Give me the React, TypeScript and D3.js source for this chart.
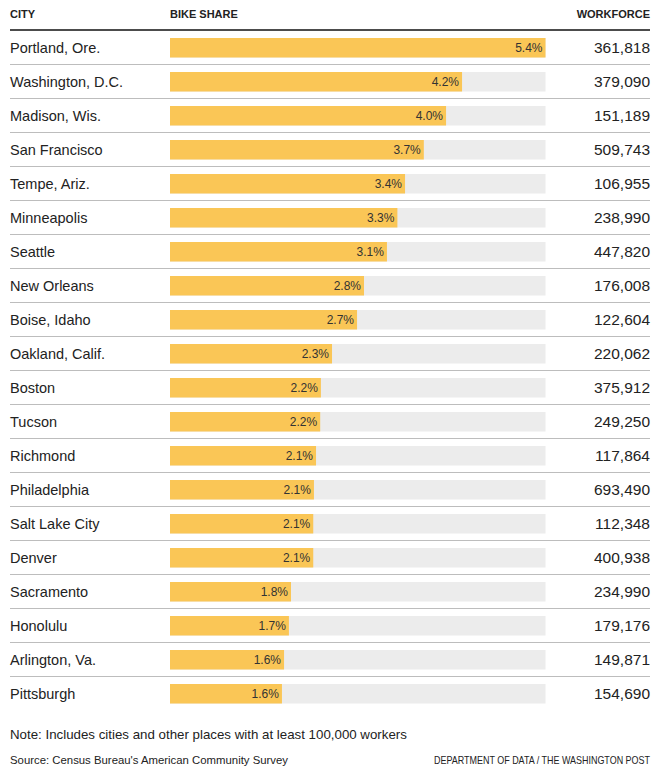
import React, { useEffect, useRef } from 'react';
import * as d3 from 'd3';

const cities = [
  'Portland, Ore.', 'Washington, D.C.', 'Madison, Wis.', 'San Francisco', 'Tempe, Ariz.',
  'Minneapolis', 'Seattle', 'New Orleans', 'Boise, Idaho', 'Oakland, Calif.',
  'Boston', 'Tucson', 'Richmond', 'Philadelphia', 'Salt Lake City',
  'Denver', 'Sacramento', 'Honolulu', 'Arlington, Va.', 'Pittsburgh',
];
// bar lengths (unrounded)
const bikeShare = [5.4, 4.2, 3.97, 3.65, 3.38, 3.27, 3.12, 2.79, 2.69, 2.33, 2.17, 2.16, 2.1, 2.07, 2.06, 2.06, 1.74, 1.71, 1.64, 1.61];
// printed labels
const shareLabels = ['5.4%', '4.2%', '4.0%', '3.7%', '3.4%', '3.3%', '3.1%', '2.8%', '2.7%', '2.3%', '2.2%', '2.2%', '2.1%', '2.1%', '2.1%', '2.1%', '1.8%', '1.7%', '1.6%', '1.6%'];
const workforce = [
  361818, 379090, 151189, 509743, 106955, 238990, 447820, 176008, 122604, 220062,
  375912, 249250, 117864, 693490, 112348, 400938, 234990, 179176, 149871, 154690,
];
const headers = ['CITY', 'BIKE SHARE', 'WORKFORCE'];

const W = 664;
const H = 774;
const FONT = '"Liberation Sans", Arial, sans-serif';

// Table of bike commuting share by city
const App: React.FC = () => {
  const svgRef = useRef<SVGSVGElement>(null);

  useEffect(() => {
    if (!svgRef.current) return;
    const svg = d3.select(svgRef.current);
    svg.selectAll('*').remove();

    const left = 10;
    const right = 650;
    const top = 30;
    const rowH = 34;

    const x = d3.scaleLinear().domain([0, 5.4]).range([170, 545.5]);
    const y = d3.scaleBand<string>()
      .domain(cities)
      .range([top, top + rowH * cities.length]);
    const fmt = d3.format(',');

    // Header
    svg.append('g')
      .selectAll('text')
      .data(headers)
      .enter()
      .append('text')
      .attr('x', (_, i) => (i === 0 ? left : i === 1 ? x(0) : right))
      .attr('y', 18)
      .attr('text-anchor', (_, i) => (i === 2 ? 'end' : 'start'))
      .style('font-family', FONT)
      .style('font-size', '11px')
      .style('font-weight', 'bold')
      .style('fill', '#222')
      .text(d => d);

    svg.append('line')
      .attr('x1', left).attr('x2', right)
      .attr('y1', top).attr('y2', top)
      .attr('stroke', '#111')
      .attr('stroke-width', 1.5);

    // Row separators
    svg.append('g')
      .selectAll('line')
      .data(cities.slice(0, -1))
      .enter()
      .append('line')
      .attr('x1', left).attr('x2', right)
      .attr('y1', d => y(d)! + rowH + 0.5)
      .attr('y2', d => y(d)! + rowH + 0.5)
      .attr('stroke', '#bdbdbd')
      .attr('stroke-width', 1);

    const rows = svg.append('g')
      .selectAll('g')
      .data(cities)
      .enter()
      .append('g')
      .attr('transform', d => `translate(0, ${y(d)})`);

    const barY = 8;
    const barH = 19.5;

    rows.append('rect')
      .attr('x', x(0))
      .attr('y', barY)
      .attr('width', x(5.4) - x(0))
      .attr('height', barH)
      .attr('fill', '#ececec');

    rows.append('rect')
      .attr('x', x(0))
      .attr('y', barY)
      .attr('width', (_, i) => x(bikeShare[i]) - x(0))
      .attr('height', barH)
      .attr('fill', '#fac656');

    rows.append('text')
      .attr('x', (_, i) => x(bikeShare[i]) - 3)
      .attr('y', barY + barH / 2)
      .attr('dy', '0.36em')
      .attr('text-anchor', 'end')
      .style('font-family', FONT)
      .style('font-size', '12px')
      .style('fill', '#333')
      .text((_, i) => shareLabels[i]);

    rows.append('text')
      .attr('x', left)
      .attr('y', barY + barH / 2)
      .attr('dy', '0.36em')
      .style('font-family', FONT)
      .style('font-size', '14.5px')
      .style('fill', '#222')
      .text(d => d);

    rows.append('text')
      .attr('x', right)
      .attr('y', barY + barH / 2)
      .attr('dy', '0.36em')
      .attr('text-anchor', 'end')
      .style('font-family', FONT)
      .style('font-size', '15.5px')
      .style('fill', '#222')
      .text((_, i) => fmt(workforce[i]));

    // Footer
    svg.append('text')
      .attr('x', left)
      .attr('y', 739)
      .style('font-family', FONT)
      .style('font-size', '13.3px')
      .style('fill', '#222')
      .text('Note: Includes cities and other places with at least 100,000 workers');

    svg.append('text')
      .attr('x', left)
      .attr('y', 764)
      .attr('textLength', 278)
      .attr('lengthAdjust', 'spacingAndGlyphs')
      .style('font-family', FONT)
      .style('font-size', '11.5px')
      .style('fill', '#222')
      .text("Source: Census Bureau's American Community Survey");

    svg.append('text')
      .attr('x', 434)
      .attr('y', 764)
      .attr('textLength', 216)
      .attr('lengthAdjust', 'spacingAndGlyphs')
      .style('font-family', FONT)
      .style('font-size', '10.5px')
      .style('fill', '#222')
      .text('DEPARTMENT OF DATA / THE WASHINGTON POST');
  }, []);

  return (
    <div style={{ position: 'absolute', left: 0, top: 0, width: W, height: H, background: '#fff' }}>
      <svg ref={svgRef} width={W} height={H}></svg>
    </div>
  );
};

export default App;
